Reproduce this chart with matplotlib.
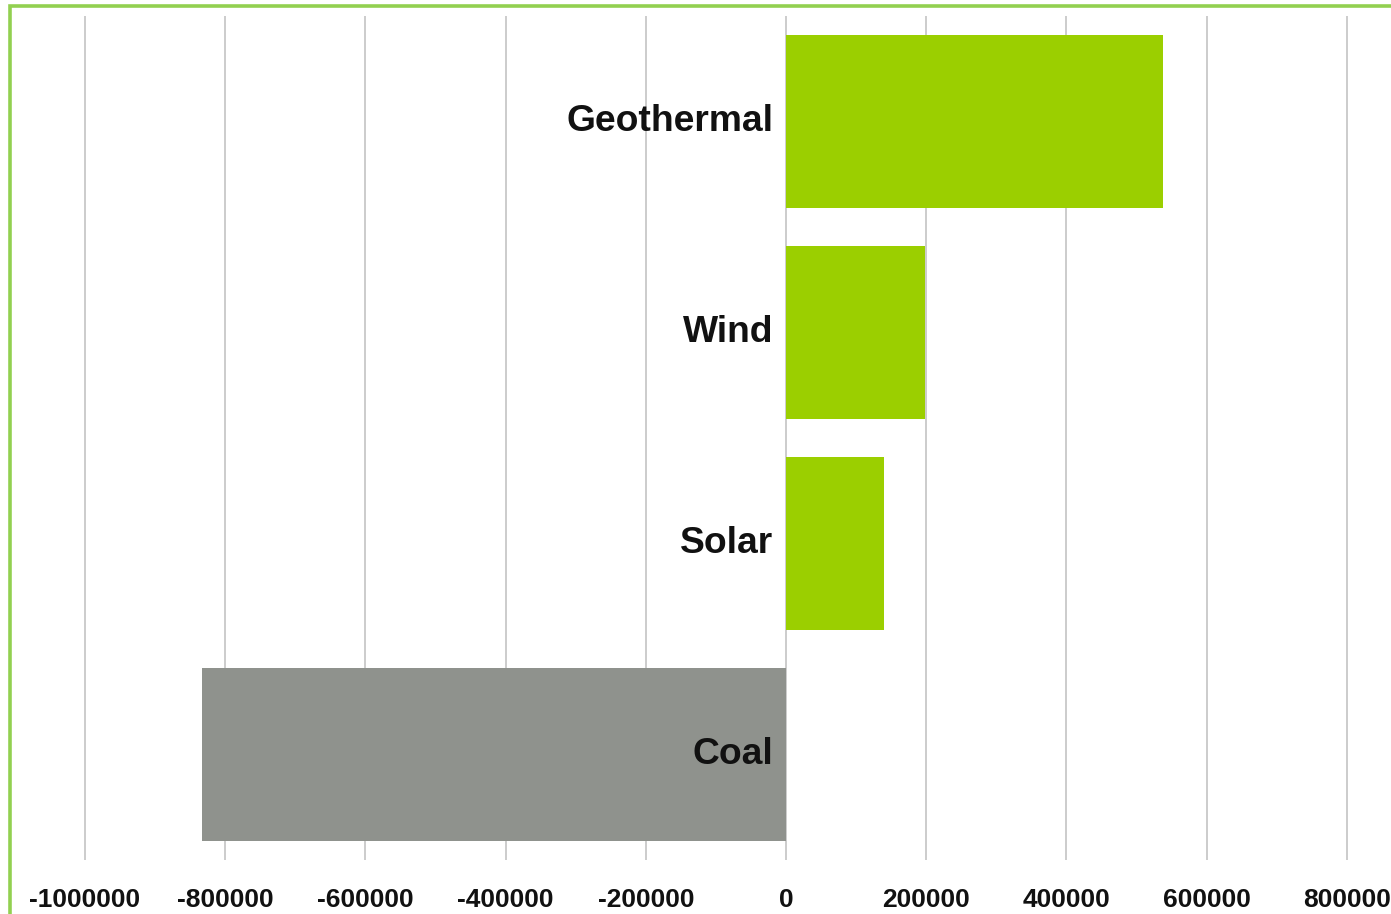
import matplotlib
matplotlib.use("Agg")
import matplotlib.pyplot as plt
from matplotlib.patches import Rectangle

categories = ["Geothermal", "Wind", "Solar", "Coal"]
values = [538000, 198000, 140000, -833000]
colors = ["#9bcf00", "#9bcf00", "#9bcf00", "#8f928d"]
ticks = [-1000000, -800000, -600000, -400000, -200000, 0, 200000, 400000, 600000, 800000]
tick_labels = [str(t) for t in ticks]

W, H = 1391, 914
fig = plt.figure(figsize=(W / 100, H / 100), dpi=100)
fig.patch.set_facecolor("white")

ax = fig.add_axes([10 / W, 1 - 860 / H, (W - 10) / W, 844 / H])
ypos = list(range(len(categories)))
ax.barh(ypos, values, height=0.82, color=colors, zorder=3)
ax.set_ylim(len(categories) - 0.5, -0.5)
ax.set_xlim(-1107000, 863000)

ax.set_xticks(ticks)
ax.set_xticklabels(tick_labels, fontfamily="Liberation Sans", fontweight="bold",
                   fontsize=19, color="#111111")
ax.tick_params(axis="x", length=0, pad=20)
ax.set_yticks([])
ax.grid(axis="x", color="#c8c8c8", linewidth=1.3, zorder=0)
ax.set_axisbelow(True)
for s in ax.spines.values():
    s.set_visible(False)

for y, c in zip(ypos, categories):
    ax.annotate(c, xy=(0, y), xytext=(-9, 0), textcoords="offset points",
                ha="right", va="center", fontfamily="Liberation Sans",
                fontweight="bold", fontsize=26.8, color="#111111", zorder=4)

border = Rectangle((9.5 / W, -0.1), 1.2, 1.1 - 6.5 / H, transform=fig.transFigure,
                   fill=False, edgecolor="#92d050", linewidth=2.6, zorder=10)
fig.patches.append(border)

fig.savefig("out.png", dpi=100)
